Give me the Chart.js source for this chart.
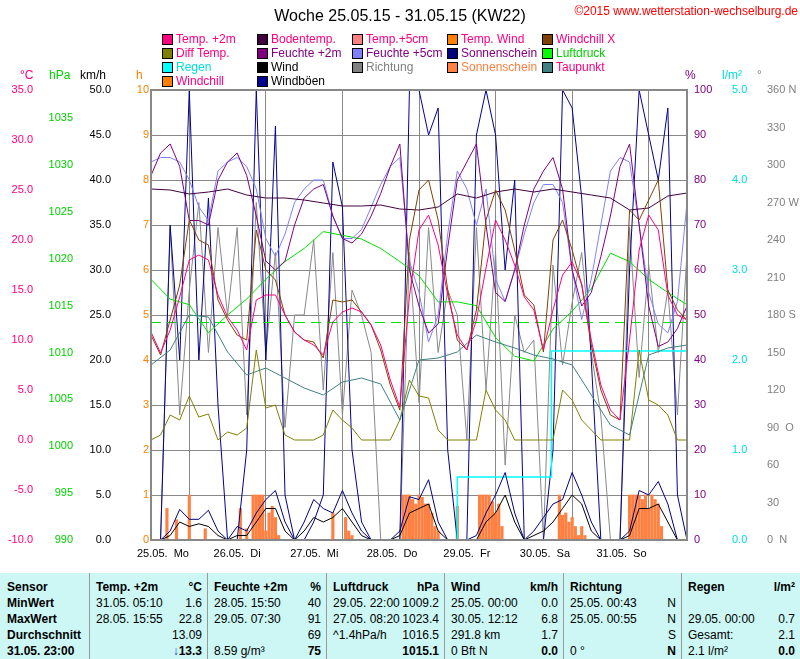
<!DOCTYPE html>
<html>
<head>
<meta charset="utf-8">
<script src="https://cdn.jsdelivr.net/npm/chart.js@4"></script>
<style>
  body { margin:0; width:800px; height:659px; position:relative; background:#fff; overflow:hidden;
         font-family:"Liberation Sans Narrow","Liberation Sans",Arial,sans-serif; }
  #wrap { position:absolute; left:0; top:0; width:800px; height:573px; }
  .t { position:absolute; white-space:nowrap; font-size:12px; line-height:14px; }
  .sw { position:absolute; width:9px; height:9px; border:1px solid #000; }
  #table { position:absolute; left:0; top:573px; width:800px; height:86px; background:#ccf7f5; }
  .vl { position:absolute; top:0; width:1px; height:86px; background:#999; }
  .b { font-weight:bold; }
</style>
</head>
<body>
<div id="wrap"><canvas id="wetter" width="800" height="573"></canvas></div>
<div id="overlay"></div>
<div id="table"></div>
<script>
// Zeitachse: Stunden ab 25.05. 00:00, Werte alle 3 h bzw. 6 h
const hours3 = Array.from({ length: 57 }, (_, i) => i * 3);
const hours6 = Array.from({ length: 29 }, (_, i) => i * 6);
const dayLabels = ["25.05.  Mo", "26.05.  Di", "27.05.  Mi", "28.05.  Do", "29.05.  Fr", "30.05.  Sa", "31.05.  So"];

const temp2m = [10.8,8.7,11,14.3,18,18.5,18,14.5,12.3,11,9,14,14.5,14.5,12.5,10.8,10,9.5,8.5,11.8,12.8,13.2,12.8,11.5,9.5,6,3.3,14.4,21,22.5,19.5,14.5,10.5,9,12,17.2,22,20,17.5,14.3,13,9,13,16.5,17.8,15.6,10,5.5,3,2,10,19,22.5,21,14.5,12.5,12];
const windchillX = [10.5,8.5,12,15.5,22,20,19.5,14,12,10.5,10,21,17,16,12.5,10.8,10,9.8,8.2,14,13.8,14,12.8,11.5,9,5.5,3,20,25,26,22,15,10,9,13,22,25,23,19,14.5,13.5,8.8,20,22,19,15.5,9.5,5,2.5,2,23,22,24,26,15,13,12];
const diffTemp = [0,0.5,2.5,2,4.4,2.3,2.6,0,0.8,0.5,1.2,9,3.2,3.5,0.5,0,0,0,0.5,3,2,1.2,0,0,0,0,2,6,4.4,4.2,1,0,0,0,0,5,3,2,0,0,0,0,0,5,4,2,1,0,0,0,0,9,4,3.5,2.5,0,0];
const feuchte2m = [81,86,88,83,71,71,70,80,84,86,81,72,62,60,62,70,76,78,79,72,67,66,68,72,77,83,88,60,52,46,48,65,80,84,88,70,55,53,60,70,78,82,85,78,60,52,55,63,72,83,88,70,52,43,44,47,52];
const feuchte5cm = [84,85,85,84,80,74,71,82,84,85,83,78,67,63,68,75,78,80,80,72,67,67,69,74,79,83,85,62,55,44,50,68,82,78,70,78,58,53,60,68,75,79,79,75,60,49,58,70,82,85,84,70,55,48,46,53,75];
const sonnenschein = [0,0,35,20,50,20,38,15,0,0,10,50,20,46,5,0,0,2,5,42,37,10,2,0,0,0,0,50,50,45,48,10,0,0,45,50,45,30,40,0,0,0,10,50,48,38,20,0,0,0,30,50,45,40,48,5,0];
const windboeen = [0,0,1,3.4,2.3,2.3,3.3,1,0,1.5,1,3,4.5,5.5,2,0,2,4.5,3.5,3,5.5,3,1,0,0,0,1,4.8,4.5,6.7,2,0,0,0,0.5,3,5,7.5,3,0,1,2.5,4,4.5,7.5,5,2,0,0,0,1,5.5,5,6.5,4,0,0];
const wind = [0,0,0.5,2,1.5,1.8,1.5,0.5,0,0.5,0.5,2,3.5,3.5,1,0,1,2.5,2,2.5,3.5,2,0.5,0,0,0,0.5,3,3.5,4,1,0,0,0,0,2,3,5,2,0,0.5,1,2,3.5,5,4,1,0,0,0,0.5,3.5,3.5,4,2,0,0];
const richtung = [0,0,250,100,200,270,150,250,180,250,100,270,150,230,90,180,180,240,120,230,100,200,180,150,0,0,0,230,110,250,150,200,180,80,250,120,230,60,180,150,160,0,220,140,190,230,150,100,0,0,250,130,220,150,200,100,230];

const bodentemp = [25.1,25.0,24.6,24.8,25.1,24.5,24.2,24.2,24.0,23.7,23.4,23.4,23.5,23.1,23.0,23.3,24.6,24.2,24.8,25.1,24.8,25.1,24.8,24.5,24.2,23.0,23.2,24.4,24.7];
const luftdruck = [1017.8,1015.7,1015.1,1012.1,1014,1015.7,1017.8,1019.7,1021.1,1022.9,1022.5,1022.1,1021.1,1019.7,1018.2,1015.4,1015.4,1015,1011.6,1009.6,1009.1,1012.5,1014.4,1016.8,1020.6,1019.7,1017.8,1016.4,1015.1];
const taupunkt = [7.5,9.0,12.5,12.3,8.8,6.5,7.2,6.2,5.2,4.5,5.8,6.2,5.6,2.0,8.0,8.2,8.8,10.5,9.8,9.2,8.5,8.1,7.5,4.5,1.5,0.5,8.5,9.2,9.5];
const druckMittel = 1013.2;

const regenHours = [96, 96, 125.5, 125.5, 168];
const regenVals = [0, 0.7, 0.7, 2.1, 2.1];

const sunHour = [5,8,12,17, 28,30,32,33,34,35,36,37,38,39,40,41, 57,61,62,63, 79,80,81,82,83,84,85,86,87,88,89,90, 96,103,104,105,106,107,108,109,110, 128,129,130,131,132,133,134,135,136, 150,151,152,153,154,155,156,157,158,159,160];
const sunVal = [0.7,0.45,1.0,0.25, 0.7,0.25,1,1,1,1,0.2,0.6,0.75,0.5,0.1,0, 0.6,0.5,0.2,0.1, 1,1,1,0.9,0.8,1,0.95,0.8,0.8,0.6,0.3,0.2, 0.75,1,1,1,1,0.85,0.6,0.8,0.3, 1,0.55,0.6,0.4,0.5,0.3,0.1,0.3,0.1, 1,1,1,1,0.9,1,0.7,1,0.9,0.8,0.3];

const dirNames = { 360: "360 N", 270: "270 W", 180: "180 S", 90: "90  O", 0: "0  N" };

const xy = (xs, ys) => ys.map((y, i) => ({ x: xs[i], y }));

function line(label, xs, ys, color, axis, extra) {
  return Object.assign({ type: "line", label, data: xy(xs, ys), borderColor: color, borderWidth: 1,
    pointRadius: 0, tension: 0, yAxisID: axis, fill: false }, extra || {});
}

const fontTick = { family: "Liberation Sans Narrow, Liberation Sans, Arial", size: 11 };
function yAxis(pos, weight, width, min, max, step, color, fmt, extra) {
  return Object.assign({
    position: pos, weight, min, max,
    grid: { display: false, drawTicks: true, tickLength: 5, color: "#777" },
    border: { display: false },
    ticks: { stepSize: step, color, font: fontTick, padding: 2, callback: fmt },
    afterFit: s => { s.width = width; }
  }, extra || {});
}

const frame = {
  id: "frame",
  afterDatasetsDraw(c) {
    const a = c.chartArea, g = c.ctx;
    g.save(); g.strokeStyle = "#888"; g.lineWidth = 2;
    g.strokeRect(a.left, a.top, a.right - a.left, a.bottom - a.top);
    g.restore();
  }
};

new Chart(document.getElementById("wetter").getContext("2d"), {
  data: {
    datasets: [
      line("Temp. +2m", hours3, temp2m, "#ff0080", "c"),
      line("Windchill X", hours3, windchillX, "#804000", "c"),
      line("Taupunkt", hours6, taupunkt, "#408080", "c"),
      line("Diff Temp.", hours3, diffTemp, "#808000", "c"),
      line("Bodentemp.", hours6, bodentemp, "#400040", "c"),
      line("Feuchte +2m", hours3, feuchte2m, "#800080", "p"),
      line("Feuchte +5cm", hours3, feuchte5cm, "#8080ff", "p"),
      line("Luftdruck", hours6, luftdruck, "#00e000", "hpa"),
      line("Mittel", [0, 168], [druckMittel, druckMittel], "#00e000", "hpa", { borderDash: [10, 6] }),
      line("Wind", hours3, wind, "#000000", "kmh"),
      line("Windböen", hours3, windboeen, "#000080", "kmh"),
      line("Regen", regenHours, regenVals, "#00ffff", "l", { borderWidth: 1.5 }),
      line("Sonnenschein", hours3, sonnenschein, "#000090", "kmh"),
      line("Richtung", hours3, richtung, "#888888", "deg"),
      { type: "bar", label: "Sonnenschein h", data: xy(sunHour, sunVal), backgroundColor: "#ff8040",
        yAxisID: "h", barThickness: 2.5 }
    ]
  },
  options: {
    responsive: false,
    animation: false,
    layout: { padding: { top: 90, left: 0, right: 0, bottom: 0 } },
    plugins: { legend: { display: false }, tooltip: { enabled: false } },
    scales: {
      x: {
        type: "linear", min: 0, max: 168, offset: false,
        grid: { color: "#888", borderDash: [3, 3], drawTicks: false },
        border: { display: false },
        ticks: { stepSize: 24, color: "#000", font: fontTick, align: "start", labelOffset: -14, padding: 7,
          maxRotation: 0, autoSkip: false, callback: v => dayLabels[v / 24] || "" },
        afterFit: s => { s.height = 33; }
      },
      c: yAxis("left", 4, 40, -10, 35, 5, "#ff0080", v => v.toFixed(1)),
      hpa: yAxis("left", 3, 40, 990, 1038, 5, "#00d000", v => v, {
        afterBuildTicks: s => { s.ticks = s.ticks.filter(t => t.value % 5 === 0); } }),
      kmh: yAxis("left", 2, 38, 0, 50, 5, "#000", v => v.toFixed(1)),
      h: yAxis("left", 1, 33, 0, 10, 1, "#ff8000", v => v, {
        grid: { display: true, color: "#888", borderDash: [3, 3], drawTicks: false } }),
      p: yAxis("right", 1, 38, 0, 100, 10, "#800080", v => v),
      l: yAxis("right", 2, 35, 0, 5, 1, "#00e0e0", v => v.toFixed(1)),
      deg: yAxis("right", 3, 40, 0, 360, 30, "#808080", v => dirNames[v] || v)
    }
  },
  plugins: [frame]
});

// Titel, Legende, Einheiten
const legendItems = [
  ["Temp. +2m", "#ff0080", "#ff0080"], ["Bodentemp.", "#400040", "#ff0080"], ["Temp.+5cm", "#ff8080", "#ff0080"], ["Temp. Wind", "#ff8000", "#ff0080"], ["Windchill X", "#804000", "#ff0080"],
  ["Diff Temp.", "#808000", "#ff0080"], ["Feuchte +2m", "#800080", "#800080"], ["Feuchte +5cm", "#8080ff", "#800080"], ["Sonnenschein", "#000080", "#800080"], ["Luftdruck", "#00ff00", "#00d000"],
  ["Regen", "#00ffff", "#00e0e0"], ["Wind", "#000000", "#000"], ["Richtung", "#808080", "#808080"], ["Sonnenschein", "#ff8040", "#ff8040"], ["Taupunkt", "#408080", "#ff0080"],
  ["Windchill", "#ff8000", "#ff0080"], ["Windböen", "#000090", "#000"]
];
const legendCols = [162, 257, 352, 447, 542];
const legendRows = [32, 46, 60, 74];
const units = [["°C", 20, "#ff0080"], ["hPa", 49, "#00d000"], ["km/h", 80, "#000"], ["h", 136, "#ff8000"],
               ["%", 685, "#800080"], ["l/m²", 722, "#00e0e0"], ["°", 757, "#808080"]];

let html = '<div class="t" style="left:0;width:800px;text-align:center;top:7px;font-size:16px;line-height:18px">Woche 25.05.15 - 31.05.15 (KW22)</div>';
html += '<div class="t" style="right:2px;top:4px;color:#ff0000;font-size:12px">©2015 www.wetterstation-wechselburg.de</div>';
legendItems.forEach((it, i) => {
  const x = legendCols[i % 5], y = legendRows[Math.floor(i / 5)];
  html += `<div class="sw" style="left:${x}px;top:${y + 2}px;background:${it[1]}"></div>`;
  html += `<div class="t" style="left:${x + 14}px;top:${y}px;color:${it[2]}">${it[0]}</div>`;
});
units.forEach(u => { html += `<div class="t" style="left:${u[1]}px;top:68px;color:${u[2]}">${u[0]}</div>`; });
document.getElementById("overlay").innerHTML = html;

// Tabelle unten
const tableCols = [0, 89, 207, 326, 444, 563, 681];
const tableRowY = [7, 23, 39, 55, 71];
const tableCells = [
  [["Sensor", "", 1], ["MinWert", "", 1], ["MaxWert", "", 1], ["Durchschnitt", "", 1], ["31.05. 23:00", "", 1]],
  [["Temp. +2m", "°C", 1], ["31.05.  05:10", "1.6"], ["28.05.  15:55", "22.8"], ["", "13.09"], ["", "<span style='color:#0040ff'>↓</span>13.3", 2]],
  [["Feuchte +2m", "%", 1], ["28.05.  15:50", "40"], ["29.05.  07:30", "91"], ["", "69"], [" 8.59 g/m³", "75", 2]],
  [["Luftdruck", "hPa", 1], ["29.05.  22:00", "1009.2"], ["27.05.  08:20", "1023.4"], ["^1.4hPa/h", "1016.5"], ["", "1015.1", 2]],
  [["Wind", "km/h", 1], ["25.05.  00:00", "0.0"], ["30.05.  12:12", "6.8"], ["291.8 km", "1.7"], [" 0 Bft N", "0.0", 2]],
  [["Richtung", "", 1], ["25.05.  00:43", "N"], ["25.05.  00:55", "N"], ["", "S"], [" 0 °", "N", 2]],
  [["Regen", "l/m²", 1], ["", ""], ["29.05.  00:00", "0.7"], ["Gesamt:", "2.1"], [" 2.1 l/m²", "0.0", 2]]
];
let th = "";
tableCols.forEach((x, ci) => {
  if (ci > 0) th += `<div class="vl" style="left:${x}px"></div>`;
  const w = (tableCols[ci + 1] || 800) - x;
  tableCells[ci].forEach((cell, ri) => {
    const y = tableRowY[ri];
    const bl = cell[2] === 1 ? "b" : "", br = cell[2] ? "b" : "";
    th += `<div class="t ${bl}" style="left:${x + 7}px;top:${y}px">${cell[0]}</div>`;
    th += `<div class="t ${br}" style="right:${800 - x - w + 5}px;top:${y}px">${cell[1]}</div>`;
  });
});
document.getElementById("table").innerHTML = th;
</script>
</body>
</html>
